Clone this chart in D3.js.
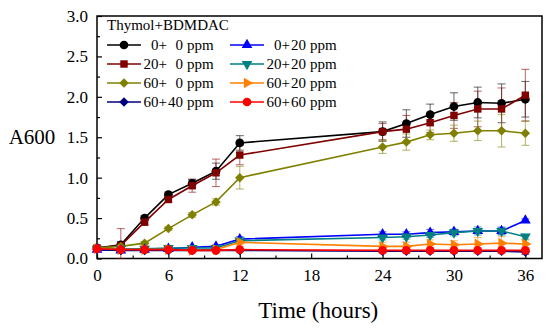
<!DOCTYPE html>
<html>
<head>
<meta charset="utf-8">
<script src="https://cdnjs.cloudflare.com/ajax/libs/d3/7.8.5/d3.min.js"></script>
<style>
  body { margin: 0; background: #fff; }
  text { font-family: "Liberation Serif", "Times New Roman", serif; }
</style>
</head>
<body>
<div class="canvas"></div>
<script>
// data
const hours = [0, 2, 4, 6, 8, 10, 12, 24, 26, 28, 30, 32, 34, 36];

const s0_0   = [0.13, 0.17, 0.50, 0.79, 0.93, 1.08, 1.43, 1.57, 1.67, 1.78, 1.88, 1.93, 1.92, 1.97];
const s20_0  = [0.13, 0.16, 0.45, 0.73, 0.90, 1.06, 1.28, 1.57, 1.60, 1.68, 1.77, 1.85, 1.85, 2.02];
const s60_0  = [0.13, 0.15, 0.19, 0.37, 0.54, 0.70, 1.00, 1.38, 1.44, 1.53, 1.55, 1.58, 1.58, 1.55];
const s0_20  = [0.11, 0.10, 0.11, 0.12, 0.14, 0.15, 0.24, 0.30, 0.30, 0.32, 0.33, 0.34, 0.34, 0.47];
const s20_20 = [0.12, 0.12, 0.12, 0.13, 0.13, 0.13, 0.22, 0.26, 0.27, 0.29, 0.32, 0.34, 0.34, 0.27];
const s60_20 = [0.12, 0.11, 0.11, 0.11, 0.10, 0.11, 0.20, 0.15, 0.15, 0.18, 0.17, 0.18, 0.19, 0.18];
const s60_40 = [0.11, 0.10, 0.10, 0.10, 0.10, 0.10, 0.10, 0.09, 0.09, 0.09, 0.09, 0.09, 0.09, 0.08];
const s60_60 = [0.12, 0.11, 0.11, 0.11, 0.10, 0.10, 0.11, 0.10, 0.10, 0.10, 0.10, 0.10, 0.10, 0.10];

// error bars (sd)
const e0_0   = [0.02, 0.04, 0.03, 0.03, 0.05, 0.10, 0.09, 0.12, 0.17, 0.13, 0.17, 0.19, 0.24, 0.22];
const e20_0  = [0.02, 0.21, 0.04, 0.03, 0.08, 0.17, 0.12, 0.10, 0.17, 0.12, 0.16, 0.22, 0.26, 0.32];
const e60_0  = [0.01, 0.02, 0.02, 0.02, 0.03, 0.04, 0.14, 0.08, 0.10, 0.06, 0.10, 0.12, 0.20, 0.15];
const e0_20  = [0.01, 0.02, 0.02, 0.01, 0.02, 0.02, 0.03, 0.03, 0.03, 0.04, 0.03, 0.03, 0.04, 0.02];
const e20_20 = [0.01, 0.02, 0.02, 0.01, 0.02, 0.02, 0.03, 0.03, 0.03, 0.03, 0.04, 0.05, 0.05, 0.03];
const e60_20 = [0.01, 0.04, 0.04, 0.02, 0.02, 0.03, 0.03, 0.05, 0.05, 0.05, 0.05, 0.08, 0.08, 0.05];
const e60_40 = [0.01, 0.02, 0.02, 0.01, 0.01, 0.01, 0.01, 0.02, 0.02, 0.02, 0.02, 0.02, 0.02, 0.03];
const e60_60 = [0.01, 0.01, 0.01, 0.01, 0.01, 0.01, 0.01, 0.01, 0.01, 0.01, 0.01, 0.01, 0.01, 0.01];

// legend labels: thymol part + BDMDAC part + unit
const thymol = ['0+', '20+', '60+', '0+', '20+', '60+', '60+', '60+'];
const bdmdac = ['0', '0', '0', '20', '20', '20', '40', '60'];
const unit = 'ppm';
const xTicks = [0, 6, 12, 18, 24, 30, 36];
const yTicks = [0, 0.5, 1.0, 1.5, 2.0, 2.5, 3.0];

const series = [
  {k: 0, vals: s0_0,   err: e0_0,   color: '#000000', sym: d3.symbolCircle,   rot: 0,   size: 60, col: 0, row: 0},
  {k: 1, vals: s20_0,  err: e20_0,  color: '#800000', sym: d3.symbolSquare,   rot: 0,   size: 55, col: 0, row: 1},
  {k: 2, vals: s60_0,  err: e60_0,  color: '#808000', sym: d3.symbolSquare,   rot: 45,  size: 45, col: 0, row: 2},
  {k: 3, vals: s0_20,  err: e0_20,  color: '#0000ff', sym: d3.symbolTriangle, rot: 0,   size: 50, col: 1, row: 0},
  {k: 4, vals: s20_20, err: e20_20, color: '#008080', sym: d3.symbolTriangle, rot: 180, size: 50, col: 1, row: 1},
  {k: 5, vals: s60_20, err: e60_20, color: '#ff8000', sym: d3.symbolTriangle, rot: 90,  size: 50, col: 1, row: 2},
  {k: 6, vals: s60_40, err: e60_40, color: '#000080', sym: d3.symbolSquare,   rot: 45,  size: 45, col: 0, row: 3},
  {k: 7, vals: s60_60, err: e60_60, color: '#ff0000', sym: d3.symbolCircle,   rot: 0,   size: 60, col: 1, row: 3}
];

const margin = {top: 16, right: 8, bottom: 70.5, left: 97};
const width = 550, height = 329;
const graphWidth = width - margin.left - margin.right;
const graphHeight = height - margin.top - margin.bottom;

const svg = d3.select('.canvas')
  .append('svg')
  .attr('width', width)
  .attr('height', height);

const graph = svg.append('g')
  .attr('transform', `translate(${margin.left}, ${margin.top})`);

// scales
const x = d3.scaleLinear().domain([0, 37.4]).range([0, graphWidth]);
const y = d3.scaleLinear().domain([0, 3]).range([graphHeight, 0]);

// axes, ticks pointing in
const xAxis = d3.axisBottom(x).tickValues(xTicks).tickFormat(d3.format('d'))
  .tickSizeInner(-5).tickSizeOuter(0).tickPadding(10);
const xMinor = d3.axisBottom(x).tickValues(d3.range(3, 36, 6)).tickFormat('')
  .tickSizeInner(-3).tickSizeOuter(0);
const yAxis = d3.axisLeft(y).tickValues(yTicks).tickFormat(d3.format('.1f'))
  .tickSizeInner(-5).tickSizeOuter(0).tickPadding(9);
const yMinor = d3.axisLeft(y).tickValues(d3.range(0.25, 3, 0.5)).tickFormat('')
  .tickSizeInner(-3).tickSizeOuter(0);

const xAxisGroup = graph.append('g').attr('transform', `translate(0, ${graphHeight})`).call(xAxis);
graph.append('g').attr('transform', `translate(0, ${graphHeight})`).call(xMinor);
const yAxisGroup = graph.append('g').call(yAxis);
graph.append('g').call(yMinor);

graph.selectAll('.domain').remove();
graph.selectAll('.tick line').attr('stroke', '#000').attr('stroke-width', 1.2);
xAxisGroup.selectAll('text').attr('font-size', 17).attr('fill', '#000');
yAxisGroup.selectAll('text').attr('font-size', 17).attr('fill', '#000');

// frame
graph.append('rect')
  .attr('width', graphWidth)
  .attr('height', graphHeight)
  .attr('fill', 'none')
  .attr('stroke', '#000')
  .attr('stroke-width', 1.5);

// axis titles
svg.append('text')
  .attr('x', 32).attr('y', margin.top + y(1.5) + 7)
  .attr('text-anchor', 'middle')
  .attr('font-size', 21)
  .text('A600');

svg.append('text')
  .attr('x', margin.left + x(18.6)).attr('y', 318)
  .attr('text-anchor', 'middle')
  .attr('font-size', 23)
  .text('Time (hours)');

const line = d3.line()
  .x((d, i) => x(hours[i]))
  .y(d => y(d));

// error bars first
series.forEach(s => {
  const eb = graph.append('g')
    .attr('stroke', s.color)
    .attr('stroke-opacity', 0.55)
    .attr('stroke-width', 1.1);
  s.vals.forEach((v, i) => {
    const cx = x(hours[i]);
    const top = y(v + s.err[i]), bot = y(Math.max(0, v - s.err[i]));
    eb.append('line').attr('x1', cx).attr('x2', cx).attr('y1', top).attr('y2', bot);
    eb.append('line').attr('x1', cx - 4).attr('x2', cx + 4).attr('y1', top).attr('y2', top);
    eb.append('line').attr('x1', cx - 4).attr('x2', cx + 4).attr('y1', bot).attr('y2', bot);
  });
});

// lines and markers
series.forEach(s => {
  graph.append('path')
    .datum(s.vals)
    .attr('d', line)
    .attr('fill', 'none')
    .attr('stroke', s.color)
    .attr('stroke-width', 1.6);

  graph.selectAll(null)
    .data(s.vals)
    .enter()
    .append('path')
    .attr('d', d3.symbol().type(s.sym).size(s.size))
    .attr('transform', (d, i) => `translate(${x(hours[i])}, ${y(d)}) rotate(${s.rot})`)
    .attr('fill', s.color);
});

// legend
const legend = svg.append('g').attr('font-size', 15);
legend.append('text')
  .attr('x', 107).attr('y', 30)
  .text('Thymol+BDMDAC');

const colX = [107, 230];
const rowY = [45, 64, 83, 102];
series.forEach(s => {
  const lx = colX[s.col], ly = rowY[s.row];
  legend.append('line')
    .attr('x1', lx).attr('x2', lx + 34)
    .attr('y1', ly).attr('y2', ly)
    .attr('stroke', s.color).attr('stroke-width', 1.6);
  legend.append('path')
    .attr('d', d3.symbol().type(s.sym).size(s.size))
    .attr('transform', `translate(${lx + 17}, ${ly}) rotate(${s.rot})`)
    .attr('fill', s.color);
  legend.append('text')
    .attr('x', lx + 60).attr('y', ly + 5)
    .attr('text-anchor', 'end')
    .text(thymol[s.k]);
  legend.append('text')
    .attr('x', lx + 76).attr('y', ly + 5)
    .attr('text-anchor', 'end')
    .text(bdmdac[s.k]);
  legend.append('text')
    .attr('x', lx + 80).attr('y', ly + 5)
    .text(unit);
});
</script>
</body>
</html>
